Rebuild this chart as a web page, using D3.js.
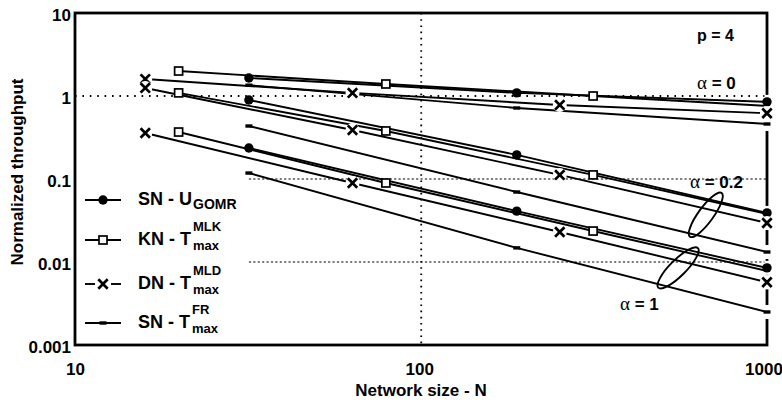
<!DOCTYPE html>
<html><head><meta charset="utf-8">
<script src="https://cdn.jsdelivr.net/npm/d3@7"></script>
<style>
body{margin:0;background:#fff}
text{font-family:"Liberation Sans",Arial,Helvetica,sans-serif;font-weight:bold;fill:#000}
</style>
</head><body>
<svg id="c" width="782" height="403"></svg>
<script>
// ---------- data ----------
const xTicks = [10, 100, 1000];
const xTickLabels = ["10", "100", "1000"];
const yTicks = [0.001, 0.01, 0.1, 1, 10];
const yTickLabels = ["0.001", "0.01", "0.1", "1", "10"];

// KN - T^MLK_max (squares); last point is where the line leaves the frame (no marker)
const knN = [20, 80, 320, 1024];
const knMarked = [true, true, true, false];
const knA0 = [2.0, 1.395, 1.0, 0.76];
const knA02 = [1.09, 0.379, 0.112, 0.038];
const knA1 = [0.368, 0.0895, 0.0236, 0.0078];

// SN - U_GOMR (filled circles)
const snuN = [32, 192, 1024];
const snuA0 = [1.65, 1.09, 0.85];
const snuA02 = [0.895, 0.195, 0.039];
const snuA1 = [0.236, 0.041, 0.0085];

// DN - T^MLD_max (crosses)
const dnN = [16, 64, 256, 1024];
const dnA0 = [1.6, 1.09, 0.78, 0.62];
const dnA02 = [1.25, 0.389, 0.112, 0.0295];
const dnA1 = [0.358, 0.0895, 0.023, 0.0057];

// SN - T^FR_max (small bars)
const frN = [32, 192, 1024];
const frA0 = [1.35, 0.717, 0.46];
const frA02 = [0.435, 0.0697, 0.0132];
const frA1 = [0.118, 0.0148, 0.0025];

const alphaLabels = ["α = 0", "α = 0.2", "α = 1"];
const legendNames = ["SN - U", "KN - T", "DN - T", "SN - T"];
const legendSup = ["", "MLK", "MLD", "FR"];
const legendSub = ["GOMR", "max", "max", "max"];
const legendMarks = ["circle", "square", "cross", "bar"];

// ---------- layout ----------
const svg = d3.select("#c");
const L = 75, R = 767, T = 13, B = 345;
const x = d3.scaleLog().domain([10, 1024]).range([L, R]);
const y = d3.scaleLog().domain([0.001, 10]).range([B, T]);

svg.append("defs").append("clipPath").attr("id", "clip")
  .append("rect").attr("x", L).attr("y", T).attr("width", R - L).attr("height", B - T);

// reference dotted lines
const g0 = svg.append("g");
g0.append("line").attr("x1", L).attr("x2", R).attr("y1", y(1)).attr("y2", y(1))
  .attr("stroke", "#000").attr("stroke-width", 1.8).attr("stroke-dasharray", "1.6,5.8");
g0.append("line").attr("x1", x(100) + 2).attr("x2", x(100) + 2).attr("y1", T).attr("y2", B)
  .attr("stroke", "#000").attr("stroke-width", 1.8).attr("stroke-dasharray", "1.6,4.6");
[0.1, 0.01].forEach(v => {
  g0.append("line").attr("x1", x(32)).attr("x2", R).attr("y1", y(v)).attr("y2", y(v))
    .attr("stroke", "#000").attr("stroke-width", 1.2).attr("stroke-dasharray", "2.2,2.2");
});

// frame
svg.append("rect").attr("x", L).attr("y", T).attr("width", R - L).attr("height", B - T)
  .attr("fill", "none").attr("stroke", "#000").attr("stroke-width", 2.8);

// axes (labels only)
const xa = svg.append("g").attr("transform", `translate(0,${B})`)
  .call(d3.axisBottom(x).tickValues(xTicks).tickSize(0).tickFormat((d, i) => xTickLabels[i]));
xa.select(".domain").remove();
xa.selectAll("text").attr("y", 30).attr("dy", 0).style("font-size", "17px")
  .style("font-family", "'Liberation Sans',Arial,sans-serif").style("font-weight", "bold");
const ya = svg.append("g").attr("transform", `translate(${L},0)`)
  .call(d3.axisLeft(y).tickValues(yTicks).tickSize(0).tickPadding(4).tickFormat((d, i) => yTickLabels[i]));
ya.select(".domain").remove();
ya.selectAll("text").attr("dy", "0.45em").style("font-size", "17px")
  .style("font-family", "'Liberation Sans',Arial,sans-serif").style("font-weight", "bold");

svg.append("text").attr("x", 421).attr("y", 396).attr("text-anchor", "middle")
  .style("font-size", "17px").text("Network size - N");
svg.append("text").attr("transform", "translate(23,172) rotate(-90)").attr("text-anchor", "middle")
  .style("font-size", "17px").text("Normalized throughput");

// series
const series = [
  {N: knN, v: knA0, m: "square", mk: knMarked}, {N: knN, v: knA02, m: "square", mk: knMarked}, {N: knN, v: knA1, m: "square", mk: knMarked},
  {N: snuN, v: snuA0, m: "circle"}, {N: snuN, v: snuA02, m: "circle"}, {N: snuN, v: snuA1, m: "circle"},
  {N: dnN, v: dnA0, m: "cross"}, {N: dnN, v: dnA02, m: "cross"}, {N: dnN, v: dnA1, m: "cross"},
  {N: frN, v: frA0, m: "bar"}, {N: frN, v: frA02, m: "bar"}, {N: frN, v: frA1, m: "bar"}
];
const line = d3.line().x(d => x(d[0])).y(d => y(d[1]));
const gl = svg.append("g").attr("clip-path", "url(#clip)");
series.forEach(s => {
  gl.append("path").datum(s.N.map((n, i) => [n, s.v[i]])).attr("d", line)
    .attr("fill", "none").attr("stroke", "#000").attr("stroke-width", 1.9);
});

// gaps in the right axis behind edge markers
series.forEach(s => {
  s.N.forEach((n, i) => {
    if (n >= 1024 && (!s.mk || s.mk[i])) {
      svg.append("rect").attr("x", R - 2.5).attr("y", y(s.v[i]) - 7).attr("width", 5).attr("height", 14).attr("fill", "#fff");
    }
  });
});

function marker(g, type, cx, cy, halo) {
  if (type === "circle") {
    g.append("circle").attr("cx", cx).attr("cy", cy).attr("r", 4.7).attr("fill", "#000");
  } else if (type === "square") {
    g.append("rect").attr("x", cx - 4).attr("y", cy - 4).attr("width", 8).attr("height", 8)
      .attr("fill", "#fff").attr("stroke", "#000").attr("stroke-width", 1.7);
  } else if (type === "cross") {
    if (halo) g.append("circle").attr("cx", cx).attr("cy", cy).attr("r", 7).attr("fill", "#fff");
    const s = 4.7;
    g.append("path").attr("d", `M${cx - s},${cy - s}L${cx + s},${cy + s}M${cx - s},${cy + s}L${cx + s},${cy - s}`)
      .attr("stroke", "#000").attr("stroke-width", 2.7).attr("fill", "none");
  } else if (type === "bar") {
    g.append("rect").attr("x", cx - 3.5).attr("y", cy - 1.7).attr("width", 7).attr("height", 3.4).attr("fill", "#000");
  }
}
const gm = svg.append("g");
series.forEach(s => {
  s.N.forEach((n, i) => {
    if (s.mk && !s.mk[i]) return;
    marker(gm, s.m, x(n), y(s.v[i]), true);
  });
});

// ellipses grouping the alpha families
const ell = [{n: 680, v: 0.037, rx: 27, ry: 7.5, a: -54}, {n: 565, v: 0.0085, rx: 28, ry: 8, a: -45}];
ell.forEach(e => {
  svg.append("ellipse").attr("cx", 0).attr("cy", 0).attr("rx", e.rx).attr("ry", e.ry)
    .attr("transform", `translate(${x(e.n)},${y(e.v)}) rotate(${e.a})`)
    .attr("fill", "none").attr("stroke", "#000").attr("stroke-width", 1.9);
});

// annotations
function alphaText(tx, ty, s) {
  const t = svg.append("text").attr("x", tx).attr("y", ty).style("font-size", "17px");
  t.append("tspan").style("font-family", "'Liberation Serif','DejaVu Serif',serif").style("font-weight", "normal").style("font-size", "19px").text(s.slice(0, 1));
  t.append("tspan").text(s.slice(1));
}
alphaText(697, 89, alphaLabels[0]);
alphaText(690, 188, alphaLabels[1]);
alphaText(620, 310, alphaLabels[2]);
svg.append("text").attr("x", 697).attr("y", 41).style("font-size", "16px").text("p = 4");

// legend
const legBase = [205, 245, 289, 328];
legendNames.forEach((nm, i) => {
  const by = legBase[i], my = by - 5;
  if (legendMarks[i] === "cross") {
    svg.append("line").attr("x1", 85).attr("x2", 95).attr("y1", my).attr("y2", my).attr("stroke", "#000").attr("stroke-width", 1.9);
    svg.append("line").attr("x1", 111).attr("x2", 121).attr("y1", my).attr("y2", my).attr("stroke", "#000").attr("stroke-width", 1.9);
  } else {
    svg.append("line").attr("x1", 85).attr("x2", 121).attr("y1", my).attr("y2", my).attr("stroke", "#000").attr("stroke-width", 1.9);
  }
  marker(svg, legendMarks[i], 103, my, false);
  const t = svg.append("text").attr("x", 138).attr("y", by).style("font-size", "18px").text(nm);
  const w = t.node().getComputedTextLength();
  if (legendSup[i]) {
    svg.append("text").attr("x", 138 + w + 2).attr("y", by - 14).style("font-size", "13px").text(legendSup[i]);
    svg.append("text").attr("x", 138 + w + 2).attr("y", by + 5).style("font-size", "13px").text(legendSub[i]);
  } else {
    svg.append("text").attr("x", 138 + w + 1).attr("y", by + 4).style("font-size", "14px").text(legendSub[i]);
  }
});
</script>
</body></html>
